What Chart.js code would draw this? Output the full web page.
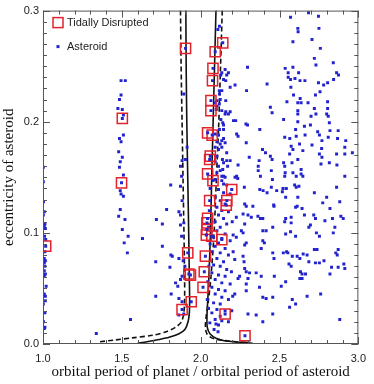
<!DOCTYPE html>
<html>
<head>
<meta charset="utf-8">
<script src="https://cdn.jsdelivr.net/npm/chart.js@4.4.1/dist/chart.umd.min.js"></script>
<style>
  html, body { margin: 0; padding: 0; background: #fff; }
</style>
</head>
<body>
<canvas id="chartCanvas" width="374" height="384"></canvas>
<script>
// period ratio / eccentricity pairs
const asteroids = [
  // column at 1.0
  [1.002,0.159],[1.002,0.146],[1.003,0.128],[1.008,0.119],[1.002,0.116],[1.012,0.108],[1.008,0.106],[1.015,0.104],
  [1.010,0.097],[1.017,0.094],[1.012,0.083],[1.008,0.077],[1.002,0.076],[1.015,0.075],[1.008,0.073],[1.012,0.070],
  [1.008,0.066],[1.015,0.063],[1.008,0.061],[1.020,0.052],[1.008,0.045],[1.015,0.043],[1.015,0.039],[1.002,0.036],
  [1.012,0.028],[1.003,0.020],[1.012,0.015],[1.008,0.014],
  // column at 1.5
  [1.495,0.237],[1.522,0.237],[1.495,0.224],[1.485,0.220],[1.475,0.212],[1.503,0.211],[1.510,0.206],[1.510,0.188],
  [1.485,0.185],[1.495,0.182],[1.480,0.173],[1.503,0.168],[1.490,0.164],[1.485,0.159],[1.510,0.152],[1.490,0.138],
  [1.495,0.135],[1.510,0.133],[1.490,0.121],[1.480,0.115],[1.520,0.112],[1.503,0.103],[1.540,0.097],[1.515,0.091],
  [1.535,0.082],[1.555,0.022],[1.338,0.0095],
  // between 1.6 and the left branch
  [1.631,0.095],[1.715,0.074],[1.719,0.112],[1.757,0.108],[1.784,0.121],[1.757,0.088],[1.811,0.080],[1.820,0.079],
  [1.805,0.069],[1.862,0.119],[1.872,0.116],[1.882,0.129],[1.872,0.107],[1.893,0.109],[1.879,0.097],[1.862,0.077],
  [1.889,0.075],[1.900,0.070],[1.841,0.055],[1.855,0.052],[1.872,0.058],[1.882,0.061],[1.813,0.045],[1.715,0.043],
  [1.862,0.041],[1.882,0.038],[1.862,0.026],[1.893,0.027],[1.872,0.160],[1.882,0.165],[1.879,0.151],[1.810,0.143],
  [1.872,0.142],[1.893,0.225],[1.914,0.177],[1.904,0.166],
  // right of 2.0, upper half
  [2.570,0.294],[2.684,0.298],[2.747,0.295],[2.616,0.284],[2.618,0.281],[2.750,0.284],[2.585,0.272],[2.706,0.274],
  [2.759,0.266],[2.721,0.257],[2.731,0.251],[2.841,0.253],[2.297,0.249],[2.536,0.248],[2.585,0.249],[2.555,0.244],
  [2.621,0.244],[2.862,0.244],[2.874,0.242],[2.176,0.244],[2.165,0.242],[2.128,0.242],[2.555,0.240],[2.570,0.238],
  [2.598,0.239],[2.630,0.237],[2.661,0.237],[2.843,0.238],[2.805,0.235],[2.780,0.233],[2.747,0.235],[2.421,0.234],
  [2.218,0.233],[2.187,0.231],[2.118,0.228],[2.291,0.228],[2.572,0.231],[2.589,0.224],[2.631,0.221],[2.757,0.227],
  [2.728,0.224],[2.159,0.219],[2.547,0.218],[2.616,0.217],[2.637,0.217],[2.681,0.217],[2.103,0.219],[2.092,0.217],
  [2.103,0.214],[2.099,0.211],[2.442,0.213],[2.453,0.208],[2.159,0.209],[2.155,0.207],[2.187,0.209],[2.616,0.210],
  [2.616,0.207],[2.721,0.212],[2.805,0.212],[2.700,0.205],[2.731,0.207],[2.799,0.207],[2.809,0.205],[2.526,0.202],
  [2.208,0.201],[2.222,0.201],[2.128,0.202],[2.140,0.199],[2.145,0.197],[2.287,0.198],[2.297,0.197],[2.616,0.200],
  [2.375,0.193],[2.602,0.193],[2.658,0.196],[2.742,0.191],[2.696,0.197],[2.816,0.199],[2.119,0.193],[2.145,0.193],
  [2.113,0.188],[2.228,0.189],[2.533,0.186],[2.565,0.185],[2.606,0.187],[2.662,0.188],[2.809,0.186],[2.868,0.185],
  [2.920,0.183],[2.145,0.185],[2.134,0.183],[2.155,0.181],[2.124,0.180],[2.392,0.175],[2.411,0.172],[2.574,0.178],
  [2.585,0.175],[2.627,0.180],[2.706,0.179],[2.769,0.183],[2.914,0.177],[2.962,0.172],[2.564,0.171],[2.648,0.174],
  [2.753,0.171],[2.442,0.169],[2.453,0.166],[2.308,0.168],[2.371,0.165],[2.365,0.160],[2.138,0.166],[2.145,0.163],
  [2.165,0.165],[2.187,0.165],[2.526,0.163],[2.533,0.160],[2.579,0.163],[2.616,0.166],[2.637,0.157],[2.763,0.162],
  [2.864,0.161],[2.769,0.168],[2.140,0.157],[2.124,0.156],[2.228,0.151],[2.218,0.150],[2.235,0.149],[2.145,0.151],
  [2.155,0.150],[2.365,0.156],[2.379,0.151],[2.448,0.156],[2.455,0.148],[2.536,0.154],[2.533,0.151],[2.585,0.154],
  [2.606,0.151],[2.637,0.153],[2.648,0.151],[2.914,0.151],[2.145,0.144],[2.165,0.143],[2.375,0.139],[2.396,0.138],
  [2.448,0.141],[2.522,0.140],[2.543,0.140],[2.596,0.143],[2.606,0.141],[2.623,0.142],[2.862,0.141],[2.277,0.141],
  [2.119,0.286],[2.109,0.283],[2.237,0.187],[2.289,0.181],[2.237,0.161],[2.155,0.247],[2.134,0.244],[2.145,0.238],
  [2.159,0.237],[2.134,0.228],[2.119,0.225],[2.124,0.220],[2.118,0.216],[2.134,0.210],[2.176,0.207],[2.092,0.189],
  [2.109,0.188],[2.103,0.182],[2.092,0.177],[2.134,0.177],[2.113,0.175],[2.165,0.172],[2.103,0.169],[2.092,0.164],
  [2.113,0.160],[2.171,0.160],[2.103,0.154],[2.134,0.151],[2.805,0.218],[2.753,0.188],[2.820,0.192],[2.872,0.192],
  [2.767,0.176],[2.914,0.171],[2.862,0.171],[2.816,0.163],
  // right of 2.2, lower half
  [2.421,0.136],[2.279,0.126],[2.289,0.124],[2.331,0.124],[2.463,0.125],[2.226,0.114],[2.269,0.117],[2.300,0.116],
  [2.321,0.114],[2.363,0.115],[2.379,0.113],[2.394,0.113],[2.279,0.108],[2.394,0.102],[2.415,0.102],[2.457,0.105],
  [2.258,0.102],[2.269,0.100],[2.206,0.098],[2.226,0.096],[2.289,0.091],[2.279,0.089],[2.394,0.093],[2.404,0.091],
  [2.384,0.086],[2.457,0.082],[2.206,0.083],[2.269,0.079],[2.275,0.074],[2.216,0.076],[2.279,0.068],[2.289,0.065],
  [2.310,0.064],[2.352,0.064],[2.384,0.061],[2.247,0.061],[2.237,0.059],[2.467,0.061],[2.300,0.059],[2.289,0.054],
  [2.216,0.045],[2.289,0.048],[2.373,0.051],[2.394,0.042],[2.415,0.041],[2.457,0.042],[2.300,0.027],[2.352,0.026],
  [2.394,0.020],[2.457,0.027],
  [2.482,0.138],[2.518,0.137],[2.539,0.132],[2.616,0.132],[2.721,0.136],[2.612,0.124],[2.602,0.123],[2.643,0.122],
  [2.465,0.124],[2.539,0.113],[2.574,0.114],[2.533,0.110],[2.574,0.109],[2.658,0.116],[2.717,0.116],[2.728,0.113],
  [2.686,0.105],[2.696,0.107],[2.539,0.099],[2.570,0.101],[2.602,0.097],[2.734,0.100],[2.524,0.082],[2.545,0.083],
  [2.553,0.082],[2.581,0.079],[2.612,0.079],[2.629,0.077],[2.650,0.081],[2.675,0.080],[2.721,0.085],[2.738,0.085],
  [2.465,0.077],[2.560,0.072],[2.574,0.070],[2.686,0.074],[2.728,0.073],[2.633,0.065],[2.643,0.063],[2.665,0.063],
  [2.629,0.059],[2.643,0.059],[2.539,0.056],[2.511,0.052],[2.675,0.043],[2.581,0.040],[2.602,0.036],[2.564,0.033],
  [2.799,0.132],[2.774,0.127],[2.882,0.128],[2.820,0.122],[2.889,0.115],[2.904,0.113],[2.836,0.113],[2.788,0.111],
  [2.851,0.105],[2.841,0.100],[2.753,0.097],[2.872,0.085],[2.857,0.082],[2.866,0.080],[2.782,0.075],[2.753,0.073],
  [2.908,0.072],[2.914,0.068],[2.830,0.069],[2.872,0.069],[2.820,0.063],[2.761,0.045],[2.882,0.022],
  // dense band just right of the right branch
  [2.092,0.148],[2.134,0.147],[2.113,0.139],[2.145,0.136],[2.187,0.135],[2.092,0.132],[2.124,0.129],[2.155,0.126],
  [2.103,0.123],[2.134,0.120],[2.176,0.119],[2.113,0.116],[2.145,0.113],[2.092,0.110],[2.165,0.108],[2.124,0.105],
  [2.103,0.102],[2.155,0.099],[2.082,0.096],[2.134,0.095],[2.187,0.093],[2.113,0.091],[2.092,0.088],[2.155,0.086],
  [2.071,0.083],[2.124,0.082],[2.176,0.080],[2.103,0.077],[2.145,0.074],[2.082,0.071],[2.124,0.070],[2.165,0.067],
  [2.071,0.064],[2.113,0.062],[2.155,0.061],[2.092,0.058],[2.134,0.055],[2.187,0.054],[2.071,0.051],[2.113,0.049],
  [2.155,0.048],[2.092,0.045],[2.134,0.042],[2.176,0.040],[2.082,0.037],[2.124,0.036],[2.103,0.031],[2.155,0.030],
  [2.071,0.028],[2.124,0.025],[2.092,0.022],[2.134,0.021],[2.176,0.020],[2.113,0.017],
  [2.060,0.140],[2.055,0.120],[2.050,0.105],[2.060,0.090],[2.052,0.070],[2.045,0.056],[2.042,0.040],[2.050,0.032],
  [2.058,0.019],[2.085,0.013],[2.110,0.011],[2.097,0.018],[2.197,0.030],[2.203,0.043],[2.200,0.110],[2.195,0.065]
];

const disrupted = [
  [2.140,0.271],[2.092,0.263],[2.078,0.248],[2.075,0.237],[2.065,0.219],[2.065,0.210],[2.044,0.190],[2.073,0.188],
  [2.061,0.169],[2.057,0.166],[2.044,0.153],[2.078,0.147],[2.197,0.139],[2.166,0.129],[2.162,0.125],[2.057,0.129],
  [2.044,0.113],[2.040,0.109],[2.040,0.103],[2.036,0.098],[2.071,0.097],[2.134,0.094],[2.030,0.079],[2.023,0.065],
  [2.015,0.051],[2.155,0.027],[2.281,0.0074],
  [1.904,0.266],[1.918,0.082],[1.925,0.063],[1.935,0.062],[1.940,0.038],[1.882,0.031],
  [1.503,0.203],[1.498,0.145],[1.017,0.088]
];

// boundary curves (solid and dashed), left and right branches
const solidLeft = [
  [1.906,0.300],[1.908,0.250],[1.912,0.200],[1.918,0.150],[1.924,0.100],[1.928,0.060],[1.930,0.040],[1.928,0.028],
  [1.920,0.020],[1.900,0.013],[1.860,0.009],[1.800,0.006],[1.736,0.004],[1.660,0.002],[1.600,0.0006]
];
const dashedLeft = [
  [1.872,0.300],[1.876,0.250],[1.882,0.200],[1.888,0.150],[1.894,0.100],[1.898,0.060],[1.898,0.040],[1.893,0.028],
  [1.878,0.020],[1.840,0.015],[1.780,0.011],[1.700,0.008],[1.566,0.0055],[1.450,0.0035],[1.358,0.002]
];
const solidRight = [
  [2.097,0.300],[2.088,0.250],[2.079,0.200],[2.070,0.150],[2.062,0.100],[2.052,0.060],[2.045,0.040],[2.040,0.025],
  [2.042,0.015],[2.060,0.009],[2.100,0.005],[2.150,0.003],[2.210,0.002],[2.310,0.0012]
];
const dashedRight = [
  [2.137,0.300],[2.126,0.250],[2.115,0.200],[2.100,0.150],[2.085,0.100],[2.065,0.060],[2.050,0.040],[2.035,0.025],
  [2.030,0.015],[2.040,0.009],[2.070,0.0055],[2.130,0.0035],[2.210,0.0022],[2.330,0.0006]
];

const xTicks = [1.0, 1.5, 2.0, 2.5, 3.0];
const yTicks = [0.0, 0.1, 0.2, 0.3];
const legendLabels = ['Tidally Disrupted', 'Asteroid'];

const BLUE = 'rgb(35,35,205)';
const RED = 'rgb(225,35,45)';

const pts = arr => arr.map(p => ({ x: p[0], y: p[1] }));

function curve(arr, dashed) {
  return {
    data: pts(arr),
    showLine: true,
    borderColor: '#111',
    borderWidth: 1.6,
    borderDash: dashed ? [5, 3] : [],
    pointRadius: 0,
    tension: 0.3,
    fill: false,
    order: 3
  };
}

// inward ticks on all four sides plus the frame
const frameTicks = {
  id: 'frameTicks',
  afterDatasetsDraw(chart) {
    const { ctx, chartArea: a, scales: { x, y } } = chart;
    ctx.save();
    ctx.strokeStyle = '#555';
    ctx.lineWidth = 1;
    ctx.strokeRect(a.left + 0.5, a.top + 0.5, a.right - a.left - 1, a.bottom - a.top - 1);
    ctx.beginPath();
    for (let i = 0; i <= 20; i++) {
      const px = Math.round(x.getPixelForValue(1 + i * 0.1)) + 0.5;
      const len = i % 5 === 0 ? 7 : 4;
      ctx.moveTo(px, a.bottom); ctx.lineTo(px, a.bottom - len);
      ctx.moveTo(px, a.top); ctx.lineTo(px, a.top + len);
    }
    for (let i = 0; i <= 30; i++) {
      const py = Math.round(y.getPixelForValue(i * 0.01)) + 0.5;
      const len = i % 10 === 0 ? 7 : 4;
      ctx.moveTo(a.left, py); ctx.lineTo(a.left + len, py);
      ctx.moveTo(a.right, py); ctx.lineTo(a.right - len, py);
    }
    ctx.stroke();
    ctx.restore();
  }
};

// legend sits inside the plot, top left
const insideLegend = {
  id: 'insideLegend',
  afterDraw(chart) {
    const { ctx, chartArea: a } = chart;
    ctx.save();
    ctx.font = '11px "Liberation Sans", Arial, sans-serif';
    ctx.fillStyle = '#222';
    ctx.textBaseline = 'middle';
    const x0 = a.left + 15, y0 = a.top + 12;
    ctx.strokeStyle = RED;
    ctx.lineWidth = 1.5;
    ctx.strokeRect(x0 - 5, y0 - 5, 10, 10);
    ctx.fillText(legendLabels[0], x0 + 9, y0);
    ctx.fillStyle = BLUE;
    ctx.fillRect(x0 - 1.5, y0 + 22.5, 3, 3);
    ctx.fillStyle = '#222';
    ctx.fillText(legendLabels[1], x0 + 9, y0 + 24);
    ctx.restore();
  }
};

const tickFont = { family: '"Liberation Sans", Arial, sans-serif', size: 11 };
const titleFont = { family: '"Liberation Serif", "Times New Roman", serif', size: 15 };

new Chart(document.getElementById('chartCanvas'), {
  type: 'scatter',
  data: {
    datasets: [
      { // blue dot inside each disrupted square
        data: pts(disrupted), pointStyle: 'rect', pointRadius: 2.1,
        backgroundColor: BLUE, borderWidth: 0, order: 0
      },
      {
        label: legendLabels[0], data: pts(disrupted), pointStyle: 'rect', pointRadius: 7.2,
        backgroundColor: 'rgba(0,0,0,0)', borderColor: RED, borderWidth: 1.5, order: 1
      },
      {
        label: legendLabels[1], data: pts(asteroids), pointStyle: 'rect', pointRadius: 2.1,
        backgroundColor: BLUE, borderWidth: 0, order: 2
      },
      curve(solidLeft, false),
      curve(dashedLeft, true),
      curve(solidRight, false),
      curve(dashedRight, true)
    ]
  },
  options: {
    responsive: false,
    animation: false,
    events: [],
    layout: { padding: { top: 6, right: 13, left: 0, bottom: 0 } },
    plugins: { legend: { display: false }, tooltip: { enabled: false } },
    scales: {
      x: {
        type: 'linear', min: 1, max: 3,
        afterBuildTicks: s => { s.ticks = xTicks.map(v => ({ value: v })); },
        afterFit: s => { s.height = 40; },
        grid: { display: false, drawTicks: false },
        border: { display: false },
        ticks: { font: tickFont, color: '#222', padding: 8, maxRotation: 0, callback: v => v.toFixed(1) },
        title: {
          display: true, text: 'orbital period of planet / orbital period of asteroid',
          font: titleFont, color: '#111', padding: { top: 0, bottom: 3 }
        }
      },
      y: {
        type: 'linear', min: 0, max: 0.3,
        afterBuildTicks: s => { s.ticks = yTicks.map(v => ({ value: v })); },
        afterFit: s => { s.width = 43; },
        grid: { display: false, drawTicks: false },
        border: { display: false },
        ticks: { font: tickFont, color: '#222', padding: 4, callback: v => v.toFixed(1) },
        title: {
          display: true, text: 'eccentricity of asteroid',
          font: titleFont, color: '#111', padding: { top: 0, bottom: 0 }
        }
      }
    }
  },
  plugins: [frameTicks, insideLegend]
});
</script>
</body>
</html>
